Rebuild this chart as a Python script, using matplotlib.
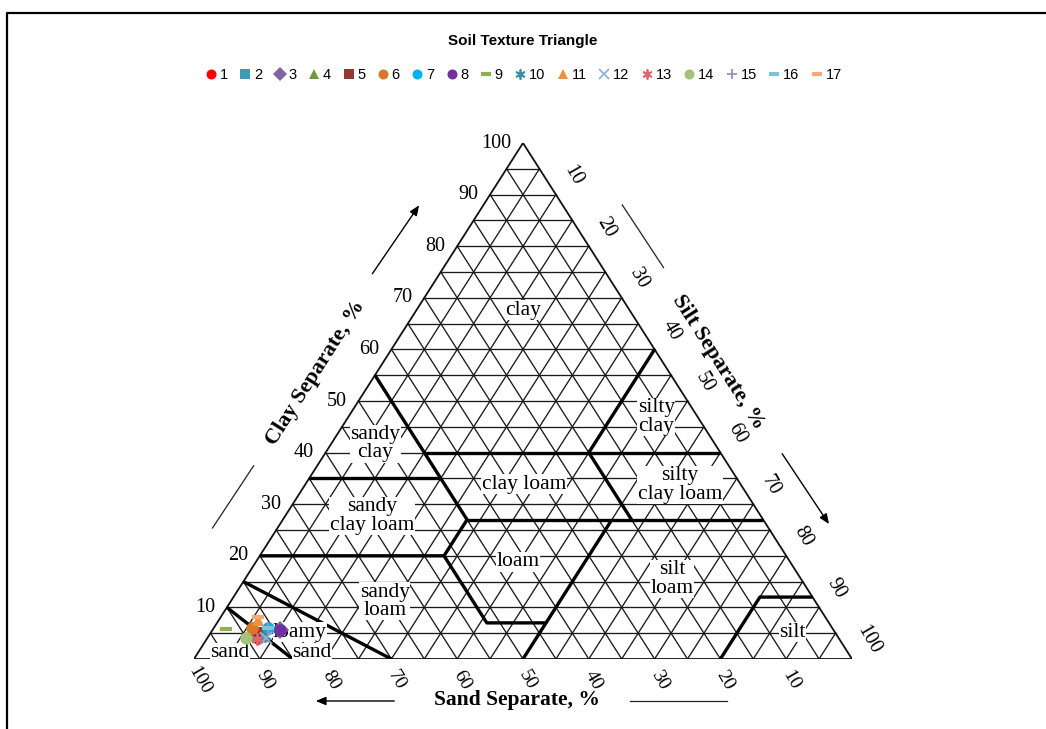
import numpy as np
import matplotlib
matplotlib.use("Agg")
import matplotlib.pyplot as plt
from matplotlib.lines import Line2D

# ---------------- sample compositions (percent) ----------------
samples = [str(i) for i in range(1, 18)]
sand = [88.2, 88.0, 84.1, 88.0, 88.0, 88.2, 85.8, 84.1, 92.2, 87.0, 86.5, 87.0, 88.4, 90.1, 85.8, 85.8, 86.2]
silt = [7.8, 7.5, 10.3, 6.0, 7.0, 5.7, 8.2, 10.3, 1.9, 8.5, 6.0, 8.9, 7.7, 5.9, 8.2, 8.2, 5.7]
clay = [4.0, 4.5, 5.6, 6.0, 5.0, 6.1, 6.0, 5.6, 5.9, 4.5, 7.5, 4.1, 3.9, 4.0, 6.0, 6.0, 8.1]

colors = ["#FF0000", "#3E9BB8", "#8064A2", "#6E9A3C", "#953735", "#D9782A",
          "#00B0F0", "#7030A0", "#8DB050", "#3E8FA8", "#F0903A", "#95B3D7",
          "#E06670", "#A3C27A", "#A08CC0", "#7CC4DA", "#F5A878"]
markers = ["o", "s", "D", "^", "s", "o", "o", "o", "_", (6, 2, 0), "^", "x",
           (6, 2, 0), "o", "+", "_", "_"]

# ---------------- texture class boundaries (sand %, clay %) ----------------
boundaries = [
    [(85, 0), (90, 10)],
    [(70, 0), (85, 15)],
    [(80, 20), (52, 20), (52, 7), (43, 7)],
    [(50, 0), (23, 27)],
    [(52, 20), (45, 27), (45, 55)],
    [(65, 35), (45, 35)],
    [(45, 27), (0, 27)],
    [(45, 40), (0, 40)],
    [(20, 27), (20, 40), (0, 60)],
    [(20, 0), (8, 12), (0, 12)],
]

# class names with label anchor (sand %, clay %)
class_names = ["clay", "silty\nclay", "sandy\nclay", "clay loam", "silty\nclay loam",
               "sandy\nclay loam", "loam", "silt\nloam", "sandy\nloam", "loamy",
               "sand", "sand", "silt"]
class_sand = [16.2, 6.3, 51.6, 32.9, 9.3, 59.1, 41.4, 19.6, 65.4, 81.3, 81.5, 93.9, 6.4]
class_clay = [67.6, 46.9, 41.7, 33.9, 33.7, 27.7, 18.8, 15.5, 11.2, 5.2, 1.2, 1.2, 5.2]

ticks = [10, 20, 30, 40, 50, 60, 70, 80, 90, 100]


def to_xy(sa, cl):
    """Ternary (sand, clay) -> plot coordinates (silt + clay/2, clay)."""
    sa = np.asarray(sa, float)
    cl = np.asarray(cl, float)
    si = 100 - sa - cl
    return si + cl / 2.0, cl


W, H = 1046, 729
fig = plt.figure(figsize=(W / 100, H / 100), dpi=100)
ax = fig.add_axes([194 / W, (H - 659) / H, 658 / W, 516 / H])
ax.set_xlim(0, 100)
ax.set_ylim(0, 100)
ax.axis("off")

px = 100 / 658.0   # data units per pixel (x)
py = 100 / 516.0   # data units per pixel (y)


def pix(xp, yp):
    return (xp - 194) * px, (659 - yp) * py


grid_kw = dict(color="#1a1a1a", lw=0.95, zorder=1)
for v in range(5, 100, 5):
    # constant clay
    xh, yh = to_xy([100 - v, 0], [v, v])
    ax.plot(xh, yh, **grid_kw)
    # constant sand
    xa, ya = to_xy([v, v], [0, 100 - v])
    ax.plot(xa, ya, **grid_kw)
    # constant silt
    xb, yb = to_xy([100 - v, 0], [0, 100 - v])
    ax.plot(xb, yb, **grid_kw)
ox, oy = to_xy([100, 0, 0, 100], [0, 0, 100, 0])
ax.plot(ox, oy, color="#111111", lw=1.3, zorder=2)

for seg in boundaries:
    s_, c_ = zip(*seg)
    bx, by = to_xy(s_, c_)
    ax.plot(bx, by, color="black", lw=2.4, zorder=3, solid_capstyle="butt")

serif = "Liberation Serif"
for name, s_, c_ in zip(class_names, class_sand, class_clay):
    tx, ty = to_xy(s_, c_)
    ax.text(tx, ty, name, ha="center", va="center", fontsize=15.5, family=serif,
            linespacing=0.95, zorder=4,
            bbox=dict(fc="white", ec="none", pad=0.3))

# clay ticks (left side)
for t in ticks:
    ex, ey = to_xy(100 - t, t)
    ax.text(ex - 12 * px, ey, str(t), ha="right", va="center", fontsize=14.5,
            family=serif, clip_on=False)
# silt ticks (right side)
for t in ticks:
    ex, ey = to_xy(0, 100 - t)
    ax.text(ex + 17 * px, ey + 19 * py, str(t), ha="center", va="center",
            fontsize=14.5, family=serif, rotation=-60, clip_on=False)
# sand ticks (bottom)
for t in ticks:
    ex, ey = to_xy(t, 0)
    ax.text(ex + 5 * px, ey - 21 * py, str(t), ha="center", va="center",
            fontsize=14, family=serif, rotation=-60, clip_on=False)

# axis titles
ang = np.degrees(np.arctan2(516, 329))
ax.text(*pix(316, 373), "Clay Separate, %", rotation=ang,
        ha="center", va="center", fontsize=16, fontweight="bold", family=serif,
        rotation_mode="anchor", clip_on=False)
ax.text(*pix(718, 362), "Silt Separate, %", rotation=-ang,
        ha="center", va="center", fontsize=16, fontweight="bold", family=serif,
        rotation_mode="anchor", clip_on=False)
ax.text(*pix(517, 700), "Sand Separate, %", ha="center",
        va="center", fontsize=15.5, fontweight="bold", family=serif, clip_on=False)

arrow_kw = dict(arrowstyle="-|>,head_length=0.6,head_width=0.25", color="black", lw=1.0)
ax.annotate("", xy=pix(420.7, 203), xytext=pix(370.8, 276), arrowprops=arrow_kw,
            annotation_clip=False)
ax.annotate("", xy=pix(830.5, 526.4), xytext=pix(780.6, 451.4), arrowprops=arrow_kw,
            annotation_clip=False)
ax.annotate("", xy=pix(313, 701), xytext=pix(397, 701), arrowprops=arrow_kw,
            annotation_clip=False)
for (xa, ya), (xb, yb) in [((212.5, 528), (253.7, 465.7)),
                           ((622.3, 205), (663.5, 267.5)),
                           ((630, 701), (727, 701))]:
    p0, p1 = pix(xa, ya), pix(xb, yb)
    ax.plot([p0[0], p1[0]], [p0[1], p1[1]], color="#222222", lw=0.9, clip_on=False)

# sample points
handles = []
for i, name in enumerate(samples):
    sx, sy = to_xy(sand[i], clay[i])
    m = markers[i]
    kw = dict(marker=m, color=colors[i], linestyle="none", zorder=5 + i)
    if m in ("o", "s", "D", "^"):
        kw.update(markersize=9, markeredgewidth=0)
    elif m == "_":
        kw.update(markersize=9, markeredgewidth=3)
    else:
        kw.update(markersize=9, markeredgewidth=1.3)
    h, = ax.plot([sx], [sy], label=name, clip_on=False, **kw)
    handles.append(h)

fig.text(523 / W, 1 - 41 / H, "Soil Texture Triangle", ha="center", va="center",
         fontsize=11, fontweight="bold", family="Liberation Sans")
fig.legend(handles=handles, labels=samples, loc="center", ncol=17,
           bbox_to_anchor=(524 / W, 1 - 75 / H), frameon=False,
           prop=dict(family="Liberation Sans", size=10.5),
           handlelength=0.7, handletextpad=0.25, columnspacing=0.85,
           markerscale=0.8)

# figure frame (top and left edges)
fig.add_artist(Line2D([6.5 / W, 6.5 / W, 1.0], [0.0, 1 - 12.5 / H, 1 - 12.5 / H],
                      transform=fig.transFigure, color="black", lw=1.6))

fig.savefig("out.png", dpi=100)
